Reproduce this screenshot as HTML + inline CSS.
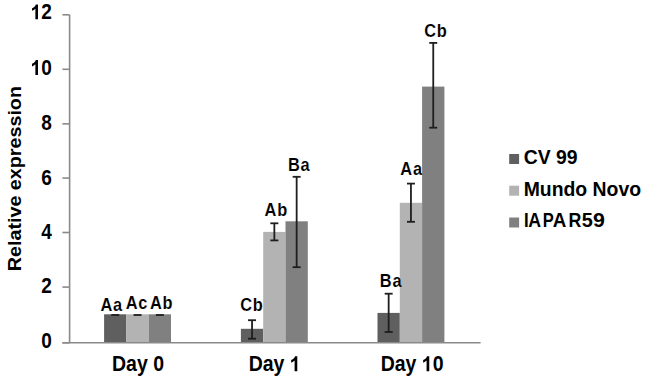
<!DOCTYPE html>
<html><head><meta charset="utf-8"><style>
html,body{margin:0;padding:0;background:#fff;}
svg{display:block;}
text{font-family:"Liberation Sans",sans-serif;font-weight:bold;fill:#000;}
path{fill:#000;}
.lb{font-size:16.4px;text-anchor:middle;letter-spacing:0.7px;stroke:#fff;stroke-width:0.1px;}
.yt{font-size:19.0px;text-anchor:end;}
.xt{font-size:19.5px;text-anchor:middle;}
.yl{font-size:18.3px;text-anchor:middle;}
.lg{font-size:19.4px;}
</style></head><body>
<svg width="645" height="378" viewBox="0 0 645 378">
<rect width="645" height="378" fill="#fff"/>
<rect x="104.10" y="314.30" width="22.30" height="28.50" fill="#5f5f5f"/>
<rect x="126.40" y="314.30" width="22.30" height="28.50" fill="#b3b3b3"/>
<rect x="148.70" y="314.30" width="22.30" height="28.50" fill="#808080"/>
<rect x="240.90" y="328.80" width="22.30" height="14.00" fill="#5f5f5f"/>
<rect x="263.20" y="231.90" width="22.30" height="110.90" fill="#b3b3b3"/>
<rect x="285.50" y="221.30" width="22.30" height="121.50" fill="#808080"/>
<rect x="377.50" y="312.90" width="22.30" height="29.90" fill="#5f5f5f"/>
<rect x="399.80" y="202.80" width="22.30" height="140.00" fill="#b3b3b3"/>
<rect x="422.10" y="86.60" width="22.30" height="256.20" fill="#808080"/>
<line x1="69.6" y1="14.8" x2="69.6" y2="342.8" stroke="#8a8a8a" stroke-width="1.6"/>
<line x1="62.4" y1="342.8" x2="480.6" y2="342.8" stroke="#8a8a8a" stroke-width="1.6"/>
<line x1="62.4" y1="342.80" x2="69.6" y2="342.80" stroke="#8a8a8a" stroke-width="1.6"/>
<line x1="62.4" y1="287.10" x2="69.6" y2="287.10" stroke="#8a8a8a" stroke-width="1.6"/>
<line x1="62.4" y1="232.50" x2="69.6" y2="232.50" stroke="#8a8a8a" stroke-width="1.6"/>
<line x1="62.4" y1="178.05" x2="69.6" y2="178.05" stroke="#8a8a8a" stroke-width="1.6"/>
<line x1="62.4" y1="123.85" x2="69.6" y2="123.85" stroke="#8a8a8a" stroke-width="1.6"/>
<line x1="62.4" y1="69.30" x2="69.6" y2="69.30" stroke="#8a8a8a" stroke-width="1.6"/>
<line x1="62.4" y1="14.80" x2="69.6" y2="14.80" stroke="#8a8a8a" stroke-width="1.6"/>
<line x1="111.25" y1="315.0" x2="119.25" y2="315.0" stroke="#1e1e1e" stroke-width="1.8"/>
<line x1="133.55" y1="315.0" x2="141.55" y2="315.0" stroke="#1e1e1e" stroke-width="1.8"/>
<line x1="155.85" y1="315.0" x2="163.85" y2="315.0" stroke="#1e1e1e" stroke-width="1.8"/>
<line x1="252.05" y1="320.2" x2="252.05" y2="338.7" stroke="#1e1e1e" stroke-width="1.8"/>
<line x1="248.05" y1="320.2" x2="256.05" y2="320.2" stroke="#1e1e1e" stroke-width="1.8"/>
<line x1="248.05" y1="338.7" x2="256.05" y2="338.7" stroke="#1e1e1e" stroke-width="1.8"/>
<line x1="274.35" y1="223.3" x2="274.35" y2="240.4" stroke="#1e1e1e" stroke-width="1.8"/>
<line x1="270.35" y1="223.3" x2="278.35" y2="223.3" stroke="#1e1e1e" stroke-width="1.8"/>
<line x1="270.35" y1="240.4" x2="278.35" y2="240.4" stroke="#1e1e1e" stroke-width="1.8"/>
<line x1="296.65" y1="176.8" x2="296.65" y2="267.2" stroke="#1e1e1e" stroke-width="1.8"/>
<line x1="292.65" y1="176.8" x2="300.65" y2="176.8" stroke="#1e1e1e" stroke-width="1.8"/>
<line x1="292.65" y1="267.2" x2="300.65" y2="267.2" stroke="#1e1e1e" stroke-width="1.8"/>
<line x1="388.65" y1="293.7" x2="388.65" y2="332.0" stroke="#1e1e1e" stroke-width="1.8"/>
<line x1="384.65" y1="293.7" x2="392.65" y2="293.7" stroke="#1e1e1e" stroke-width="1.8"/>
<line x1="384.65" y1="332.0" x2="392.65" y2="332.0" stroke="#1e1e1e" stroke-width="1.8"/>
<line x1="410.95" y1="183.6" x2="410.95" y2="221.8" stroke="#1e1e1e" stroke-width="1.8"/>
<line x1="406.95" y1="183.6" x2="414.95" y2="183.6" stroke="#1e1e1e" stroke-width="1.8"/>
<line x1="406.95" y1="221.8" x2="414.95" y2="221.8" stroke="#1e1e1e" stroke-width="1.8"/>
<line x1="433.25" y1="42.9" x2="433.25" y2="127.7" stroke="#1e1e1e" stroke-width="1.8"/>
<line x1="429.25" y1="42.9" x2="437.25" y2="42.9" stroke="#1e1e1e" stroke-width="1.8"/>
<line x1="429.25" y1="127.7" x2="437.25" y2="127.7" stroke="#1e1e1e" stroke-width="1.8"/>
<text x="111.75" y="0" class="lb" transform="translate(0,311.00) scale(1,1.165)">Aa</text>
<text x="136.95" y="0" class="lb" transform="translate(0,308.70) scale(1,1.165)">Ac</text>
<text x="161.65" y="0" class="lb" transform="translate(0,308.70) scale(1,1.165)">Ab</text>
<text x="251.85" y="0" class="lb" transform="translate(0,311.40) scale(1,1.165)">Cb</text>
<text x="276.25" y="0" class="lb" transform="translate(0,215.70) scale(1,1.165)">Ab</text>
<text x="299.25" y="0" class="lb" transform="translate(0,170.70) scale(1,1.165)">Ba</text>
<text x="391.05" y="0" class="lb" transform="translate(0,287.00) scale(1,1.165)">Ba</text>
<text x="411.55" y="0" class="lb" transform="translate(0,174.70) scale(1,1.165)">Aa</text>
<text x="435.85" y="0" class="lb" transform="translate(0,37.30) scale(1,1.165)">Cb</text>
<text x="51.9" y="0" class="yt" transform="translate(0,347.56) scale(1,1.117)">0</text>
<text x="51.9" y="0" class="yt" transform="translate(0,293.16) scale(1,1.117)">2</text>
<text x="51.9" y="0" class="yt" transform="translate(0,238.96) scale(1,1.117)">4</text>
<text x="51.9" y="0" class="yt" transform="translate(0,184.56) scale(1,1.117)">6</text>
<text x="51.9" y="0" class="yt" transform="translate(0,130.16) scale(1,1.117)">8</text>
<text x="51.9" y="0" class="yt" transform="translate(0,74.91) scale(1,1.117)"> 0</text>
<path d="M778 0H497V1059Q343 915 136 846V1101Q246 1137 375 1237Q504 1337 552 1472H778Z" transform="translate(30.77,74.91) scale(0.009277,-0.010075)"/>
<text x="51.9" y="0" class="yt" transform="translate(0,19.36) scale(1,1.117)"> 2</text>
<path d="M778 0H497V1059Q343 915 136 846V1101Q246 1137 375 1237Q504 1337 552 1472H778Z" transform="translate(30.77,19.36) scale(0.009277,-0.010075)"/>
<g transform="translate(0,371.24) scale(1,1.085)">
<text x="138.0" y="0" class="xt">Day 0</text>
</g>
<g transform="translate(0,371.24) scale(1,1.085)">
<text x="274.7" y="0" class="xt">Day  </text>
<path d="M778 0H497V1059Q343 915 136 846V1101Q246 1137 375 1237Q504 1337 552 1472H778Z" transform="translate(289.87,0.00) scale(0.009521,-0.009331)"/>
</g>
<g transform="translate(0,371.24) scale(1,1.085)">
<text x="412.1" y="0" class="xt">Day  0</text>
<path d="M778 0H497V1059Q343 915 136 846V1101Q246 1137 375 1237Q504 1337 552 1472H778Z" transform="translate(421.85,0.00) scale(0.009521,-0.009331)"/>
</g>
<text transform="translate(21.3,178.65) rotate(-90) scale(1.078,1)" class="yl">Relative expression</text>
<rect x="509.2" y="154.0" width="9.9" height="10" fill="#5f5f5f"/>
<text x="523.7" y="163.8" class="lg">CV 99</text>
<rect x="509.2" y="185.7" width="9.9" height="10" fill="#b3b3b3"/>
<text x="523.7" y="195.5" class="lg">Mundo Novo</text>
<rect x="509.2" y="217.5" width="9.9" height="10" fill="#808080"/>
<text x="0" y="0" class="lg" transform="translate(524.09,227.4) scale(0.859,1)">I</text>
<text x="0" y="0" class="lg" transform="translate(528.26,227.4) scale(0.914,1)">A</text>
<text x="0" y="0" class="lg" transform="translate(542.83,227.4) scale(0.850,1)">P</text>
<text x="0" y="0" class="lg" transform="translate(552.63,227.4) scale(0.968,1)">A</text>
<text x="0" y="0" class="lg" transform="translate(568.61,227.4) scale(0.918,1)">R</text>
<text x="0" y="0" class="lg" transform="translate(581.79,227.4) scale(1.026,1)">5</text>
<text x="0" y="0" class="lg" transform="translate(592.94,227.4) scale(1.100,1)">9</text>
</svg>
</body></html>
